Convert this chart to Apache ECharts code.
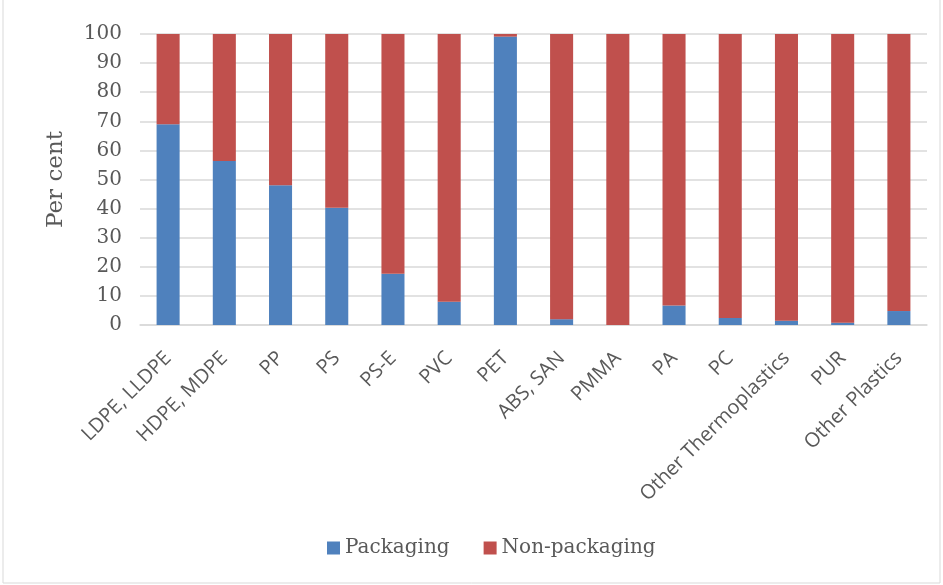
<!DOCTYPE html>
<html>
<head>
<meta charset="utf-8">
<script src="https://cdn.jsdelivr.net/npm/echarts@6/dist/echarts.min.js"></script>
<style>
html,body{margin:0;padding:0;background:#fff;}
#chart{width:943px;height:585px;}
</style>
</head>
<body>
<div id="chart"></div>
<script>
var categories = ['LDPE, LLDPE','HDPE, MDPE','PP','PS','PS-E','PVC','PET','ABS, SAN','PMMA','PA','PC','Other Thermoplastics','PUR','Other Plastics'];
var packaging = [69, 56.4, 48, 40.3, 17.6, 8, 99.1, 2, 0, 6.7, 2.4, 1.5, 0.8, 4.8];
var nonPackaging = [31, 43.6, 52, 59.7, 82.4, 92, 0.9, 98, 100, 93.3, 97.6, 98.5, 99.2, 95.2];
var yTicks = [0, 10, 20, 30, 40, 50, 60, 70, 80, 90, 100];

var chart = echarts.init(document.getElementById('chart'));
var txt = '#595959';
var option = {
    animation: false,
    graphic: [{
        type: 'rect',
        shape: { x: 3, y: -2, width: 937, height: 585 },
        style: { fill: 'none', stroke: '#d9d9d9', lineWidth: 1 }
    }],
    legend: {
        bottom: 22,
        left: 322,
        itemWidth: 13,
        itemHeight: 13,
        itemGap: 34,
        icon: 'rect',
        textStyle: { fontFamily: 'DejaVu Serif', fontSize: 20, color: txt },
        data: ['Packaging', 'Non-packaging']
    },
    grid: { left: 140, right: 16, top: 34, bottom: 260 },
    xAxis: {
        type: 'category',
        data: categories,
        axisLine: { lineStyle: { color: '#d9d9d9', width: 1.5 } },
        axisTick: { show: false },
        axisLabel: {
            rotate: 45,
            interval: 0,
            margin: 30,
            fontFamily: 'Open Sans',
            fontSize: 20,
            color: txt
        }
    },
    yAxis: {
        type: 'value',
        min: yTicks[0],
        max: yTicks[yTicks.length - 1],
        interval: 10,
        name: 'Per cent',
        nameLocation: 'middle',
        nameGap: 72,
        nameTextStyle: { fontFamily: 'DejaVu Serif', fontSize: 23, color: txt },
        axisLine: { show: false },
        axisTick: { show: false },
        splitLine: { lineStyle: { color: '#d9d9d9', width: 1.5 } },
        axisLabel: { fontFamily: 'DejaVu Serif', fontSize: 20, color: txt, margin: 18 }
    },
    series: [
        {
            name: 'Packaging',
            type: 'bar',
            stack: 'total',
            barWidth: '41%',
            data: packaging,
            itemStyle: { color: '#4f81bd' }
        },
        {
            name: 'Non-packaging',
            type: 'bar',
            stack: 'total',
            data: nonPackaging,
            itemStyle: { color: '#c0504d' }
        }
    ]
};
chart.setOption(option);
</script>
</body>
</html>
